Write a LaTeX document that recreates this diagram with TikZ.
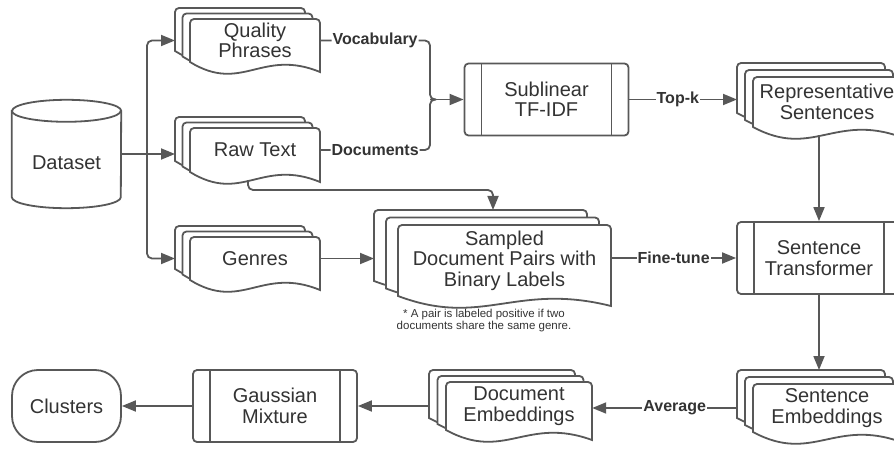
\documentclass[tikz,border=0pt]{standalone}
\usepackage{fontspec}
\setmainfont{Liberation Sans}
\usetikzlibrary{arrows.meta,positioning,calc}

\definecolor{linegray}{RGB}{88,88,88}
\definecolor{textgray}{RGB}{51,51,51}

% stack of three pages: name, left, top, width, height, dx, dy, text
\newcommand{\docstack}[8]{%
  \foreach \k in {2,1,0}{%
    \pgfmathsetmacro{\px}{#2-\k*#6}%
    \pgfmathsetmacro{\py}{#3-\k*#7}%
    \draw[page] (\px,\py+#5-10) [rounded corners=4pt] -- (\px,\py) -- (\px+#4,\py)
      [sharp corners] -- (\px+#4,\py+#5)
      .. controls (\px+0.55*#4,\py+#5-24) and (\px+0.4*#4,\py+#5+22) .. (\px,\py+#5-10) -- cycle;
  }%
  \coordinate (#1-b) at (#2-2*#6,#3-2*#7);%
  \node[doctext, minimum width=#4, minimum height=#5-10] (#1) at (#2+#4/2,#3+#5/2-5) {#8};%
}

\begin{document}
\begin{tikzpicture}[x=1pt, y=-1pt, >={Triangle[length=14pt,width=11pt]},
  line/.style={draw=linegray, line width=1.8pt},
  arrow/.style={line, ->},
  page/.style={line, fill=white},
  doctext/.style={inner sep=0pt, align=center, text=textgray,
    font=\fontsize{20}{20.5}\selectfont},
  process/.style={line, fill=white, rounded corners=4pt, minimum width=164pt,
    minimum height=72pt, align=center, text=textgray,
    font=\fontsize{20}{20.5}\selectfont,
    path picture={
      \draw[line, sharp corners]
        ([xshift=17pt]path picture bounding box.north west) -- ([xshift=17pt]path picture bounding box.south west)
        ([xshift=-17pt]path picture bounding box.north east) -- ([xshift=-17pt]path picture bounding box.south east);}},
  terminal/.style={line, fill=white, rounded corners=26pt, minimum width=109pt,
    minimum height=72pt, text=textgray, font=\fontsize{20}{20.5}\selectfont},
  lbl/.style={fill=white, inner sep=1pt, text=textgray,
    font=\bfseries\fontsize{16}{17}\selectfont},
  note/.style={align=center, inner sep=0pt, text=textgray,
    font=\fontsize{11.5}{12}\selectfont}]

  \useasboundingbox (0,0) rectangle (894,449);
  \clip (0,0) rectangle (894,449);

  % dataset cylinder
  \node[minimum width=109pt, minimum height=108pt, inner sep=0pt] (ds) at (66.5,154) {};
  \draw[line, fill=white] ([yshift=-11pt]ds.north west) -- ([yshift=11pt]ds.south west)
    arc[start angle=180, end angle=360, x radius=54.5pt, y radius=11pt]
    -- ([yshift=-11pt]ds.north east)
    arc[start angle=0, end angle=180, x radius=54.5pt, y radius=11pt] -- cycle;
  \draw[line] ([yshift=-11pt]ds.north west)
    arc[start angle=180, end angle=360, x radius=54.5pt, y radius=11pt];
  \node[doctext] (ds-label) at ($(ds.center)+(0,9)$) {Dataset};

  % page stacks
  \docstack{qp}{190}{19}{130}{53}{7.5}{5.5}{Quality\\Phrases}
  \docstack{raw}{190}{128}{130}{54}{7.5}{5.5}{Raw Text}
  \docstack{gen}{190}{237}{130}{53}{7.5}{5.5}{Genres}
  \docstack{rep}{753}{77}{148}{60}{8}{7}{Representative\\Sentences}
  \docstack{samp}{398}{225}{213}{81}{12}{7.5}{Sampled\\Document Pairs with\\Binary Labels}
  \docstack{semb}{753}{384}{148}{58}{8}{7}{Sentence\\Embeddings}
  \docstack{demb}{446}{382}{146}{58}{8.5}{6}{Document\\Embeddings}

  % steps
  \node[process] (tfidf) at (546.5,99.5) {Sublinear\\TF-IDF};
  \node[process] (st) at (819,258) {Sentence\\Transformer};
  \node[process] (gm) at (275,406) {Gaussian\\Mixture};
  \node[terminal] (cl) at (66.5,406) {Clusters};

  \node[note] (fn) at (484,321) {* A pair is labeled positive if two\\documents share the same genre.};

  % connectors
  \coordinate (split) at (147,154);
  \coordinate (merge) at (430,99.5);
  \coordinate (rawturn) at (493,190);

  \draw[line] (ds.east) -- (split);
  \draw[arrow, rounded corners=5pt] (split) |- (qp.west -| qp-b);
  \draw[arrow] (split) -- (split -| raw-b);
  \draw[arrow, rounded corners=5pt] (split) |- (gen.west -| gen-b);

  \draw[line, rounded corners=5pt] (qp.east) -- node[lbl]{Vocabulary} (qp.east -| merge) -- (merge) -- ([xshift=6pt]merge);
  \draw[line, rounded corners=5pt] (raw.east) -- node[lbl]{Documents} (raw.east -| merge) -- (merge) -- ([xshift=6pt]merge);
  \draw[arrow] (merge) -- (tfidf.west);

  \draw[arrow] (tfidf.east) -- node[lbl, pos=0.45]{Top-k} (tfidf.east -| rep-b);
  \draw[arrow] ($(rep.south -| st.north)+(0,8)$) -- (st.north);

  \draw[arrow, rounded corners=5pt] ($(raw.south)+(-7,8)$) |- (rawturn) -- (rawturn |- samp-b);
  \draw[arrow] (gen.east) -- (gen.east -| samp-b);
  \draw[arrow] (st.west -| samp.east) -- node[lbl]{Fine-tune} (st.west);

  \draw[arrow] (st.south) -- (st.south |- semb-b);
  \draw[arrow] (semb.west -| semb-b) -- node[lbl, pos=0.43]{Average} (semb.west -| demb.east);
  \draw[arrow] (demb.west -| demb-b) -- (gm.east);
  \draw[arrow] (gm.west) -- (cl.east);
\end{tikzpicture}
\end{document}
